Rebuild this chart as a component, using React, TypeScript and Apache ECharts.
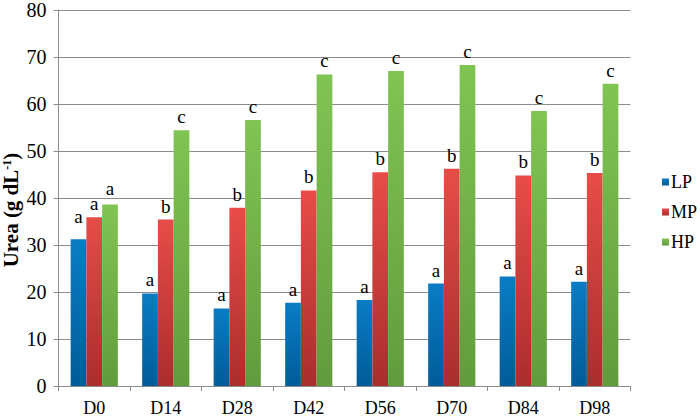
import React, { useEffect, useRef } from "react";
import * as echarts from "echarts";

const categories = ["D0", "D14", "D28", "D42", "D56", "D70", "D84", "D98"];
const lpValues = [31.2, 19.7, 16.5, 17.7, 18.3, 21.8, 23.3, 22.2];
const mpValues = [35.9, 35.4, 37.9, 41.6, 45.5, 46.2, 44.8, 45.3];
const hpValues = [38.6, 54.4, 56.6, 66.3, 67.0, 68.3, 58.5, 64.3];
const lpLetters = ["a", "a", "a", "a", "a", "a", "a", "a"];
const mpLetters = ["a", "b", "b", "b", "b", "b", "b", "b"];
const hpLetters = ["a", "c", "c", "c", "c", "c", "c", "c"];
const seriesNames = ["LP", "MP", "HP"];
const yTicks = { min: 0, max: 80, interval: 10 };

const FONT = "'Liberation Serif', 'Times New Roman', serif";

const grad = (top: string, bottom: string) =>
  new echarts.graphic.LinearGradient(0, 0, 0, 1, [
    { offset: 0, color: top },
    { offset: 1, color: bottom },
  ]);

export default function App() {
  const ref = useRef<HTMLDivElement>(null);
  useEffect(() => {
    if (!ref.current) return;
    const chart = echarts.init(ref.current, undefined, { renderer: "svg" });
    const colors = [
      grad("#0a7cc4", "#005c98"),
      grad("#e84c48", "#a92e2c"),
      grad("#80c453", "#619c3c"),
    ];
    const valuesList = [lpValues, mpValues, hpValues];
    const lettersList = [lpLetters, mpLetters, hpLetters];
    const firstOffsets = [[0, -9], [0, 0], [0, -3]];
    const series = valuesList.map((vals, si) => ({
      name: seriesNames[si],
      type: "bar",
      barWidth: "22%",
      barGap: "0%",
      itemStyle: { color: colors[si] },
      label: {
        show: true,
        position: "top",
        distance: 4,
        fontFamily: FONT,
        fontSize: 19,
        color: "#000",
        formatter: (p: any) => lettersList[si][p.dataIndex],
      },
      data: vals.map((v, i) =>
        i === 0 ? { value: v, label: { offset: firstOffsets[si] } } : v
      ),
    }));
    chart.setOption({
      animation: false,
      backgroundColor: "#fff",
      textStyle: { fontFamily: FONT },
      grid: { left: 58.5, right: 69.5, top: 8, bottom: 30.5, containLabel: false },
      legend: {
        orient: "vertical",
        left: 657,
        top: 168,
        itemWidth: 7,
        itemHeight: 7,
        itemGap: 12,
        icon: "rect",
        textStyle: { fontFamily: FONT, fontSize: 18, color: "#000", padding: [0, 0, 0, -3] },
        data: seriesNames,
      },
      xAxis: {
        type: "category",
        data: categories,
        axisLine: { lineStyle: { color: "#8c8c8c" } },
        axisTick: { show: true, length: 5, lineStyle: { color: "#8c8c8c" } },
        axisLabel: { fontFamily: FONT, fontSize: 18, color: "#000", margin: 13 },
      },
      yAxis: {
        type: "value",
        min: yTicks.min,
        max: yTicks.max,
        interval: yTicks.interval,
        axisLine: { show: true, lineStyle: { color: "#8c8c8c" } },
        axisTick: { show: true, length: 5, lineStyle: { color: "#8c8c8c" } },
        axisLabel: { fontFamily: FONT, fontSize: 20, color: "#000", margin: 12 },
        splitLine: { lineStyle: { color: "#8c8c8c" } },
      },
      graphic: [
        {
          type: "text",
          x: 11,
          y: 210,
          rotation: Math.PI / 2,
          style: {
            text: "{a|Urea (g dL}{s|-1}{a|)}",
            align: "center",
            verticalAlign: "middle",
            rich: {
              a: { fontFamily: FONT, fontSize: 21, fontWeight: "bold", fill: "#000" },
              s: {
                fontFamily: FONT,
                fontSize: 12,
                fontWeight: "bold",
                fill: "#000",
                verticalAlign: "top",
              },
            },
          },
        },
      ],
      series,
    });
    return () => chart.dispose();
  }, []);
  return <div ref={ref} style={{ width: 700, height: 417, position: "absolute", left: 0, top: 0 }} />;
}
